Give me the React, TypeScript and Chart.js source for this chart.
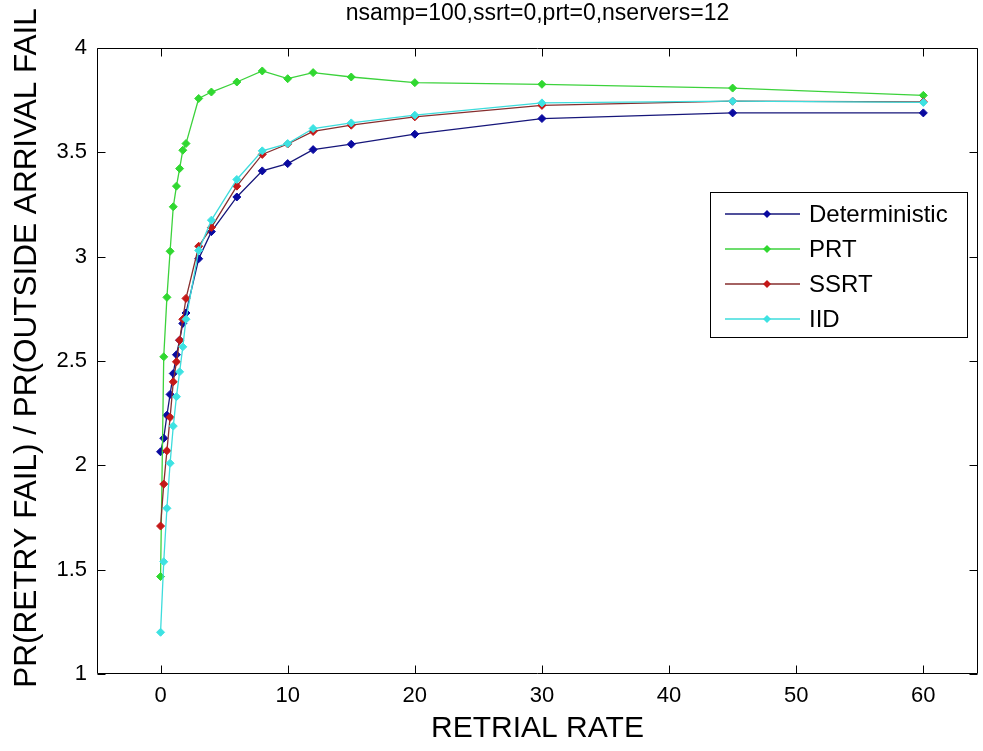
import React, { useEffect, useRef } from 'react';
import { Chart, registerables } from 'chart.js';

Chart.register(...registerables);

// ---------------- data ----------------
const chartTitle = 'nsamp=100,ssrt=0,prt=0,nservers=12';
const xAxisLabel = 'RETRIAL RATE';
const yAxisLabel = 'PR(RETRY FAIL) / PR(OUTSIDE ARRIVAL FAIL';

const retrialRates = [0, 0.25, 0.5, 0.75, 1, 1.25, 1.5, 1.75, 2, 3, 4, 6, 8, 10, 12, 15, 20, 30, 45, 60];
const deterministic = [2.065, 2.13, 2.24, 2.34, 2.44, 2.53, 2.6, 2.68, 2.73, 2.99, 3.12, 3.286, 3.411, 3.446, 3.513, 3.539, 3.587, 3.662, 3.689, 3.689];
const prt = [1.467, 2.52, 2.805, 3.026, 3.239, 3.338, 3.422, 3.51, 3.542, 3.758, 3.789, 3.837, 3.89, 3.853, 3.882, 3.861, 3.834, 3.826, 3.808, 3.773];
const ssrt = [1.709, 1.91, 2.07, 2.23, 2.4, 2.496, 2.6, 2.7, 2.8, 3.05, 3.14, 3.338, 3.49, 3.54, 3.6, 3.63, 3.67, 3.725, 3.745, 3.742];
const iid = [1.2, 1.538, 1.794, 2.01, 2.188, 2.329, 2.448, 2.568, 2.7, 3.03, 3.175, 3.37, 3.507, 3.542, 3.614, 3.641, 3.678, 3.737, 3.745, 3.739];

const seriesNames = ['Deterministic', 'PRT', 'SSRT', 'IID'];
const xTicks = [0, 10, 20, 30, 40, 50, 60];
const yTicks = [1, 1.5, 2, 2.5, 3, 3.5, 4];

// ---------------- styles ----------------
const FONT = '"Liberation Sans", Arial, sans-serif';
const lineColors = ['#16167a', '#3cd23c', '#862e2e', '#3ddcdc'];
const markerColors = ['#0a0aa0', '#30d830', '#c41818', '#3de2e2'];
const TICK_LEN = 8;

const W = 983;
const H = 751;

const toPoints = (ys: number[]) => retrialRates.map((x, i) => ({ x, y: ys[i] }));

const framePlugin = {
  id: 'matlabFrame',
  afterDatasetsDraw(chart: any) {
    const { ctx, chartArea: a, scales } = chart;
    const L = Math.round(a.left) + 0.5;
    const R = Math.round(a.right) - 0.5;
    const T = Math.round(a.top) + 0.5;
    const B = Math.round(a.bottom) - 0.5;
    ctx.save();
    ctx.strokeStyle = '#000';
    ctx.lineWidth = 1;
    ctx.beginPath();
    ctx.rect(L, T, R - L, B - T);
    for (const v of xTicks) {
      const px = Math.round(scales.x.getPixelForValue(v)) + 0.5;
      ctx.moveTo(px, B);
      ctx.lineTo(px, B - TICK_LEN);
      ctx.moveTo(px, T);
      ctx.lineTo(px, T + TICK_LEN);
    }
    for (const v of yTicks) {
      const py = Math.round(scales.y.getPixelForValue(v)) + 0.5;
      ctx.moveTo(L, py);
      ctx.lineTo(L + TICK_LEN, py);
      ctx.moveTo(R, py);
      ctx.lineTo(R - TICK_LEN, py);
    }
    ctx.stroke();
    ctx.restore();
  },
};

const textPlugin = {
  id: 'matlabTexts',
  afterDraw(chart: any) {
    const { ctx, chartArea: a } = chart;
    const cx = (a.left + a.right) / 2;
    ctx.save();
    ctx.fillStyle = '#000';
    ctx.textAlign = 'center';
    ctx.textBaseline = 'middle';
    ctx.font = `23px ${FONT}`;
    ctx.fillText(chartTitle, cx, 14);
    ctx.font = `30px ${FONT}`;
    ctx.fillText(xAxisLabel, cx, 729);
    ctx.translate(27, 348);
    ctx.rotate(-Math.PI / 2);
    ctx.font = `31.5px ${FONT}`;
    ctx.fillText(yAxisLabel, 0, 0);
    ctx.restore();
  },
};

const legendPlugin = {
  id: 'matlabLegend',
  afterDraw(chart: any) {
    const { ctx } = chart;
    const box = { x: 710, y: 192, w: 258, h: 146 };
    const rowH = 35;
    ctx.save();
    ctx.fillStyle = '#fff';
    ctx.fillRect(box.x, box.y, box.w, box.h);
    ctx.strokeStyle = '#000';
    ctx.lineWidth = 1;
    ctx.strokeRect(box.x + 0.5, box.y + 0.5, box.w - 1, box.h - 1);
    ctx.font = `24px ${FONT}`;
    ctx.textBaseline = 'middle';
    ctx.textAlign = 'left';
    seriesNames.forEach((name, i) => {
      const y = box.y + 22 + i * rowH;
      ctx.strokeStyle = lineColors[i];
      ctx.lineWidth = 1.3;
      ctx.beginPath();
      ctx.moveTo(box.x + 15, y);
      ctx.lineTo(box.x + 90, y);
      ctx.stroke();
      const mx = box.x + 57;
      const r = 4;
      ctx.fillStyle = markerColors[i];
      ctx.beginPath();
      ctx.moveTo(mx, y - r);
      ctx.lineTo(mx + r, y);
      ctx.lineTo(mx, y + r);
      ctx.lineTo(mx - r, y);
      ctx.closePath();
      ctx.fill();
      ctx.fillStyle = '#000';
      ctx.fillText(name, box.x + 99, y + 1);
    });
    ctx.restore();
  },
};

export default function App() {
  const canvasRef = useRef<HTMLCanvasElement | null>(null);

  useEffect(() => {
    const canvas = canvasRef.current;
    if (!canvas) return;
    const seriesValues = [deterministic, prt, ssrt, iid];
    const orders = [3, 2, 1, 0];
    const chart = new Chart(canvas, {
      type: 'line',
      data: {
        datasets: seriesNames.map((name, i) => ({
          label: name,
          data: toPoints(seriesValues[i]),
          borderColor: lineColors[i],
          backgroundColor: markerColors[i],
          pointBackgroundColor: markerColors[i],
          pointBorderColor: markerColors[i],
          pointStyle: 'rectRot',
          pointRadius: 4,
          pointBorderWidth: 1,
          borderWidth: 1.3,
          tension: 0,
          fill: false,
          order: orders[i],
        })),
      },
      options: {
        animation: false,
        responsive: false,
        devicePixelRatio: 1,
        layout: { padding: { left: 0, right: 3, top: 48, bottom: 0 } },
        plugins: {
          legend: { display: false },
          tooltip: { enabled: false },
          title: { display: false },
        },
        scales: {
          x: {
            type: 'linear',
            min: -5,
            max: 64.3,
            afterBuildTicks: (s: any) => {
              s.ticks = xTicks.map((v) => ({ value: v }));
            },
            afterFit: (s: any) => {
              s.height = 77;
            },
            grid: { display: false, drawTicks: false },
            border: { display: false },
            ticks: {
              color: '#000',
              padding: 9,
              maxRotation: 0,
              autoSkip: false,
              font: { family: FONT, size: 22 },
              callback: (v: any) => String(v),
            },
          },
          y: {
            type: 'linear',
            min: 1,
            max: 4,
            afterBuildTicks: (s: any) => {
              s.ticks = yTicks.map((v) => ({ value: v }));
            },
            afterFit: (s: any) => {
              s.width = 97;
            },
            grid: { display: false, drawTicks: false },
            border: { display: false },
            ticks: {
              color: '#000',
              padding: 10,
              autoSkip: false,
              font: { family: FONT, size: 22 },
              callback: (v: any) => String(v),
            },
          },
        },
      },
      plugins: [framePlugin, textPlugin, legendPlugin],
    });
    return () => chart.destroy();
  }, []);

  return (
    <div style={{ position: 'fixed', left: 0, top: 0, width: W, height: H, background: '#fff' }}>
      <canvas ref={canvasRef} width={W} height={H} style={{ display: 'block', width: W, height: H }} />
    </div>
  );
}
